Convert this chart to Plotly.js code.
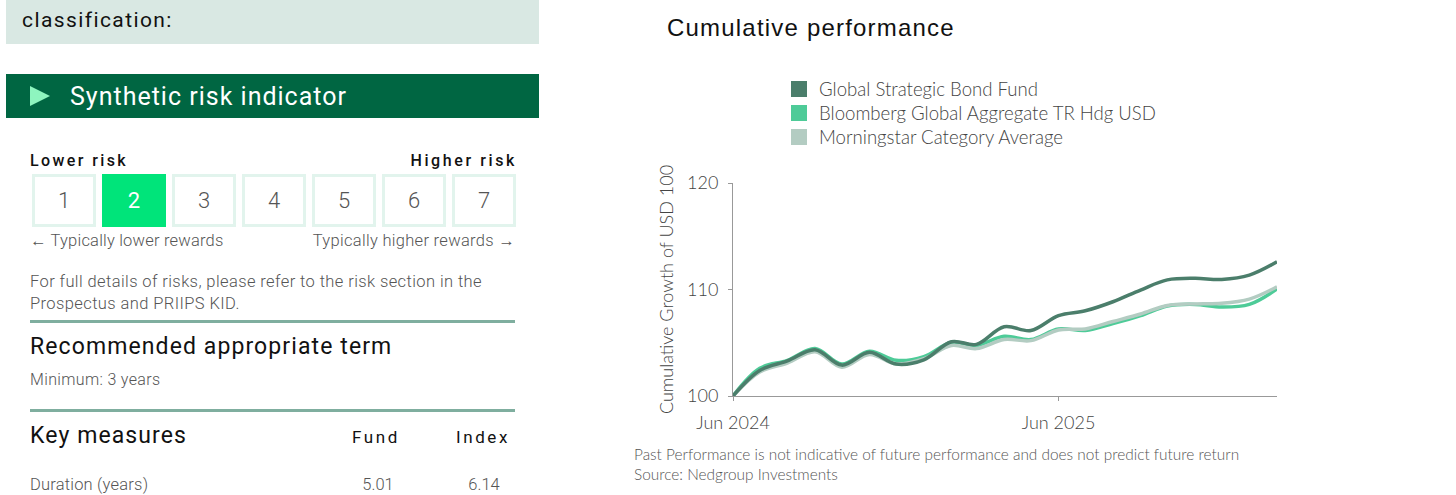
<!DOCTYPE html>
<html>
<head>
<meta charset="utf-8">
<script src="https://cdn.plot.ly/plotly-3.0.1.min.js"></script>
<style>
  html, body { margin:0; padding:0; background:#fff; }
  body { width:1456px; height:495px; overflow:hidden; position:relative; font-family: Roboto, "Liberation Sans", sans-serif; }
  .t { position:absolute; white-space:nowrap; height:30px; line-height:30px; }
  .r { text-align:right; }
  .c { text-align:center; }
  .grey { color:#555; font-weight:300; }
  .dark { color:#111; }
  .box { position:absolute; top:174px; width:64px; height:53px; box-sizing:border-box; border:3px solid #e2f4ed;
         text-align:center; line-height:47px; font-size:22px; color:#555; font-weight:300; }
  .box.on { background:#00e47a; border-color:#00e47a; color:#fff; font-weight:400; }
  .rule { position:absolute; left:30px; width:485px; height:3px; background:#7fae9f; }
  #chart { position:absolute; left:620px; top:0; width:836px; height:495px; }
</style>
</head>
<body>
<!-- left panel -->
<div style="position:absolute;left:6px;top:0;width:533px;height:44px;background:#d9e8e3;"></div>
<div class="t dark" style="left:22px;top:5px;font-size:21px;letter-spacing:1.4px;">classification:</div>

<div style="position:absolute;left:6px;top:74px;width:533px;height:44px;background:#006642;"></div>
<div style="position:absolute;left:30px;top:86px;width:0;height:0;border-left:20px solid #8ef5bf;border-top:10px solid transparent;border-bottom:10px solid transparent;"></div>
<div class="t" style="left:70px;top:82px;font-size:25px;letter-spacing:1px;color:#fff;">Synthetic risk indicator</div>

<div class="t dark" style="left:30px;top:146px;font-size:16px;font-weight:500;letter-spacing:2.4px;">Lower risk</div>
<div class="t dark r" style="right:939px;top:146px;font-size:16px;font-weight:500;letter-spacing:2.6px;">Higher risk</div>

<div id="boxes"></div>

<div class="t grey" style="left:30px;top:226px;font-size:16.5px;letter-spacing:0.2px;">&larr; Typically lower rewards</div>
<div class="t grey r" style="right:941px;top:226px;font-size:16.5px;letter-spacing:0.3px;">Typically higher rewards &rarr;</div>

<div class="t grey" style="left:30px;top:267px;font-size:16.5px;letter-spacing:0.4px;">For full details of risks, please refer to the risk section in the</div>
<div class="t grey" style="left:30px;top:289px;font-size:16.5px;letter-spacing:0.4px;">Prospectus and PRIIPS KID.</div>

<div class="rule" style="top:320px;"></div>
<div class="t dark" style="left:30px;top:332px;font-size:23px;letter-spacing:1.1px;">Recommended appropriate term</div>
<div class="t grey" style="left:30px;top:365px;font-size:16px;letter-spacing:0.35px;">Minimum: 3 years</div>

<div class="rule" style="top:409px;"></div>
<div class="t dark" style="left:30px;top:421px;font-size:23px;letter-spacing:1.1px;">Key measures</div>
<div class="t dark c" style="left:336px;width:80px;top:422px;font-size:17px;letter-spacing:2.6px;">Fund</div>
<div class="t dark c" style="left:443px;width:80px;top:422px;font-size:17px;letter-spacing:2.6px;">Index</div>

<div class="t grey" style="left:30px;top:470px;font-size:16.5px;letter-spacing:0.2px;">Duration (years)</div>
<div class="t grey c" style="left:338px;width:80px;top:470px;font-size:16.5px;">5.01</div>
<div class="t grey c" style="left:444px;width:80px;top:470px;font-size:16.5px;">6.14</div>

<div id="chart"></div>

<script>
// ---- data ----
const riskLevels = [1, 2, 3, 4, 5, 6, 7];
const selectedRisk = 2;

const dates = ['2024-06-01','2024-07-01','2024-08-01','2024-09-01','2024-10-01','2024-11-01','2024-12-01',
               '2025-01-01','2025-02-01','2025-03-01','2025-04-01','2025-05-01','2025-06-01','2025-07-01',
               '2025-08-01','2025-09-01','2025-10-01','2025-11-01','2025-12-01','2026-01-01','2026-02-01'];
const fund        = [100.0, 102.4, 103.3, 104.35, 102.9, 104.1, 103.0, 103.4, 105.1, 104.85, 106.5,
                     106.15, 107.55, 108.0, 108.85, 109.95, 110.9, 111.05, 110.95, 111.35, 112.6];
const bloomberg   = [100.0, 102.6, 103.35, 104.45, 103.0, 104.2, 103.35, 103.7, 105.05, 104.75, 105.6,
                     105.3, 106.3, 106.15, 106.8, 107.55, 108.45, 108.6, 108.35, 108.6, 110.05];
const morningstar = [100.0, 102.25, 103.1, 104.15, 102.7, 103.9, 103.0, 103.5, 104.75, 104.45, 105.3,
                     105.2, 106.2, 106.3, 107.0, 107.7, 108.5, 108.65, 108.7, 109.1, 110.25];

const seriesNames = ['Global Strategic Bond Fund', 'Bloomberg Global Aggregate TR Hdg USD', 'Morningstar Category Average'];
const seriesColors = ['#4b7e6b', '#4ecb98', '#b3ccc2'];

const yTickVals = [100, 110, 120];
const xTickVals = ['2024-06-01', '2025-06-01'];
const xTickText = ['Jun 2024', 'Jun 2025'];

// ---- risk boxes ----
const boxesEl = document.getElementById('boxes');
riskLevels.forEach((lvl, i) => {
  const d = document.createElement('div');
  d.className = 'box' + (lvl === selectedRisk ? ' on' : '');
  d.style.left = (32 + i * 70) + 'px';
  d.textContent = lvl;
  boxesEl.appendChild(d);
});

// ---- chart ----
const seriesData = [fund, bloomberg, morningstar];
const drawOrder = [1, 2, 0];
const legendIds = ['legend', 'legend2', 'legend3'];
const traces = [];
drawOrder.forEach(k => {
  traces.push({
    x: dates, y: seriesData[k], type: 'scatter', mode: 'lines',
    line: { color: seriesColors[k], width: 3.5, shape: 'spline', smoothing: 1 },
    name: seriesNames[k], showlegend: false, hoverinfo: 'skip'
  });
});
seriesNames.forEach((nm, k) => {
  traces.push({
    x: [null], y: [null], type: 'scatter', mode: 'markers', name: nm, legend: legendIds[k],
    marker: { symbol: 'square', size: 16, color: seriesColors[k] }, showlegend: true
  });
});

const FONT = 'Lato, "Liberation Sans", sans-serif';
const TXT = '#444';
const PLOT_TOP = 183, PLOT_BOTTOM = 396, PLOT_LEFT = 733, PLOT_W = 544;
const py = Y => (PLOT_BOTTOM - Y) / (PLOT_BOTTOM - PLOT_TOP);
const legendFont = { family: FONT, size: 18.6, color: TXT, weight: 300 };
const legendRowsY = [89.5, 113.5, 137.5];
const mkLegend = i => ({
  x: (159 - 113) / PLOT_W, xanchor: 'left', y: py(legendRowsY[i]), yanchor: 'middle',
  font: legendFont, bgcolor: 'rgba(0,0,0,0)', borderwidth: 0
});

const layout = {
  width: 836, height: 495,
  margin: { l: 113, r: 179, t: 183, b: 99 },
  paper_bgcolor: 'rgba(0,0,0,0)', plot_bgcolor: 'rgba(0,0,0,0)',
  font: { family: FONT, color: TXT, size: 18, weight: 300 },
  title: {
    text: 'Cumulative performance',
    font: { family: '"Liberation Sans", Roboto, sans-serif', size: 24, color: '#111' },
    xref: 'container', x: 47 / 836, xanchor: 'left',
    yref: 'container', y: 1 - 28 / 495, yanchor: 'middle'
  },
  showlegend: true,
  legend: mkLegend(0), legend2: mkLegend(1), legend3: mkLegend(2),
  xaxis: {
    type: 'date', range: [dates[0], dates[dates.length - 1]],
    tickmode: 'array', tickvals: xTickVals, ticktext: xTickText,
    ticks: 'outside', ticklen: 4, tickcolor: '#999', tickwidth: 1,
    showline: true, linecolor: '#999', linewidth: 1,
    showgrid: false, zeroline: false,
    tickfont: { family: FONT, size: 18, color: TXT, weight: 300 },
    ticklabelstandoff: 6, fixedrange: true
  },
  yaxis: {
    range: [100, 120], tickmode: 'array', tickvals: yTickVals,
    ticks: 'outside', ticklen: 4, tickcolor: '#999', tickwidth: 1,
    showline: true, linecolor: '#999', linewidth: 1,
    showgrid: false, zeroline: false,
    tickfont: { family: FONT, size: 18, color: TXT, weight: 300 },
    ticklabelstandoff: 6,
    title: { text: 'Cumulative Growth of USD 100', font: { family: FONT, size: 18, color: TXT, weight: 300 }, standoff: 8 },
    fixedrange: true
  },
  annotations: [
    { text: 'Past Performance is not indicative of future performance and does not predict future return',
      xref: 'paper', yref: 'paper', x: (632 - PLOT_LEFT) / PLOT_W, y: py(454), xanchor: 'left', yanchor: 'middle',
      showarrow: false, font: { family: FONT, size: 15.4, color: '#555', weight: 300 } },
    { text: 'Source: Nedgroup Investments',
      xref: 'paper', yref: 'paper', x: (632 - PLOT_LEFT) / PLOT_W, y: py(474), xanchor: 'left', yanchor: 'middle',
      showarrow: false, font: { family: FONT, size: 15.4, color: '#555', weight: 300 } }
  ]
};

Plotly.newPlot('chart', traces, layout, { staticPlot: true, displayModeBar: false }).then(() => {
  const t = document.querySelector('#chart .gtitle');
  if (t) t.style.letterSpacing = '1.2px';
});
</script>
</body>
</html>
